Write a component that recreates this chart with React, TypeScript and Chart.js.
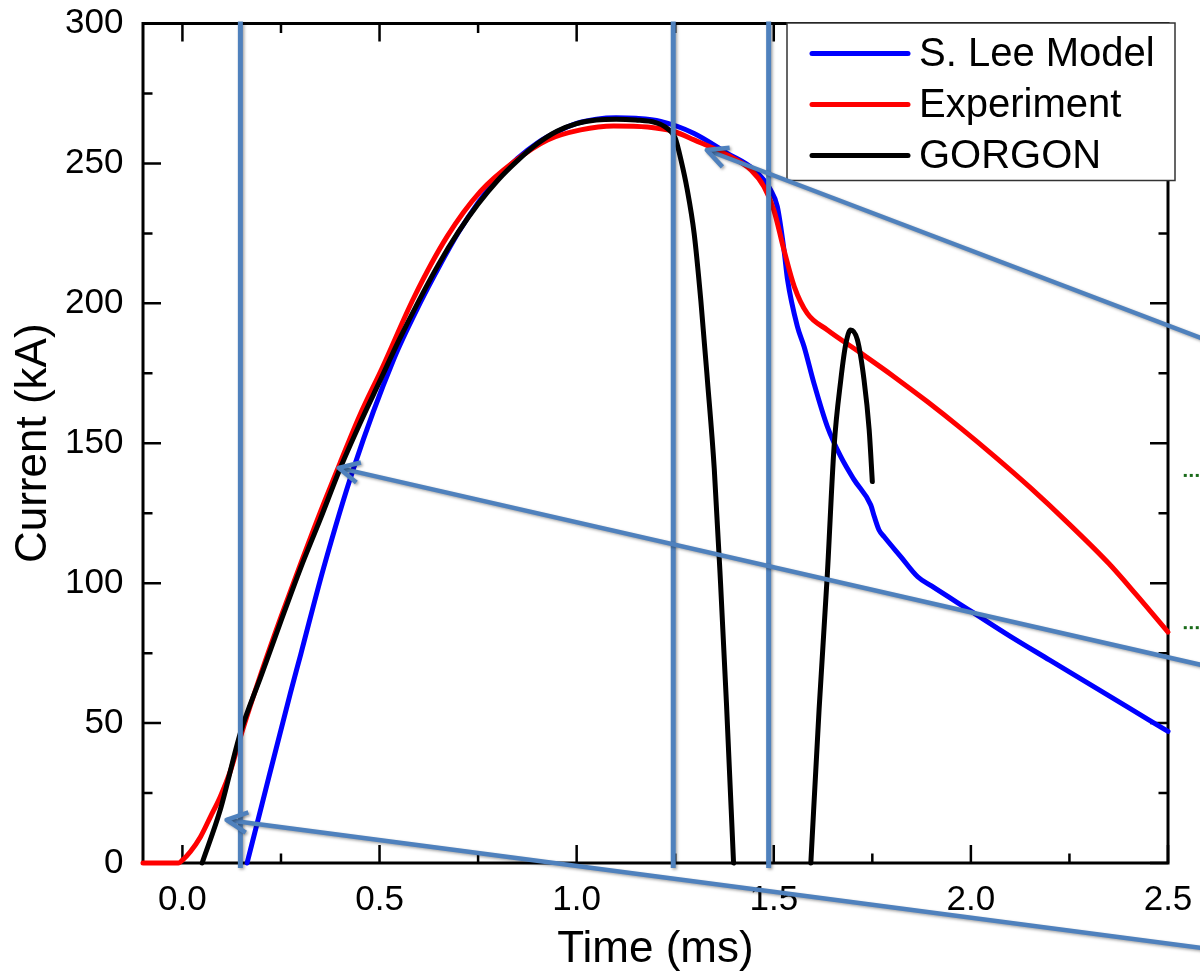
import React, { useEffect, useRef } from 'react';
import { Chart, registerables } from 'chart.js';

Chart.register(...registerables);

// ---- Data ----
const expTime = [-0.1, -0.01, 0.0, 0.02, 0.046, 0.071, 0.096, 0.122, 0.147, 0.2, 0.25, 0.3, 0.35, 0.4, 0.45, 0.507, 0.587, 0.672, 0.756, 0.841, 0.926, 1.01, 1.094, 1.18, 1.247, 1.298, 1.382, 1.442, 1.475, 1.5, 1.526, 1.552, 1.585, 1.636, 1.72, 1.805, 1.89, 1.975, 2.06, 2.15, 2.25, 2.35, 2.42, 2.5];
const expCurrent = [0, 0, 1, 4, 9.4, 16.5, 23.7, 33, 45, 68, 88, 107, 125.5, 143, 160, 177, 202, 224, 240, 250.6, 258.4, 262, 263.4, 263, 261.4, 258.4, 253, 247.7, 241.7, 233.4, 219, 206, 196.4, 190.5, 182.3, 173.8, 164.8, 155.3, 145.3, 134.2, 121, 107, 95.8, 82.5];

const leeTime = [0.164, 0.2, 0.274, 0.3, 0.358, 0.434, 0.536, 0.604, 0.65, 0.7, 0.75, 0.8, 0.85, 0.9, 0.95, 1.0, 1.05, 1.1, 1.15, 1.213, 1.298, 1.382, 1.45, 1.492, 1.509, 1.526, 1.535, 1.56, 1.577, 1.602, 1.636, 1.67, 1.704, 1.746, 1.755, 1.767, 1.78, 1.822, 1.865, 1.9, 2.0, 2.1, 2.2, 2.3, 2.4, 2.5];
const leeCurrent = [0, 20, 60.8, 74.5, 105.4, 141, 180, 200.4, 212.8, 225.3, 236, 244.8, 251.8, 257.3, 261.3, 264.3, 265.8, 266.3, 266.1, 265, 260.7, 253.6, 247.7, 240.5, 234.6, 219, 208.4, 191.7, 184.5, 171.4, 155.9, 145.2, 136.9, 127.9, 123.8, 119, 116.6, 109.5, 102.3, 99, 90, 81, 72.5, 64, 55.5, 47];

const gorgonTime = [0.05, 0.096, 0.147, 0.2, 0.25, 0.3, 0.35, 0.4, 0.45, 0.5, 0.55, 0.6, 0.65, 0.7, 0.75, 0.8, 0.85, 0.9, 0.95, 1.0, 1.05, 1.1, 1.15, 1.2, 1.225, 1.25, 1.265, 1.28, 1.298, 1.315, 1.332, 1.349, 1.365, 1.38, 1.398, 1.5, 1.594, 1.615, 1.636, 1.653, 1.67, 1.683, 1.695, 1.712, 1.729, 1.742, 1.75];
const gorgonCurrent = [0, 19, 46.5, 67, 86.5, 105.5, 123, 141, 157, 172, 187, 201, 214, 225.5, 235.5, 244, 251, 257, 261.5, 264.2, 265.5, 265.8, 265.5, 264.6, 263, 259, 251, 241, 225, 201, 172, 141, 100, 57, 0, null, 0, 55, 103.5, 148.8, 172.6, 185.7, 190.5, 187, 172.6, 154.8, 136.3];

const xTickValues = [0, 0.5, 1.0, 1.5, 2.0, 2.5];
const xTickLabels = ['0.0', '0.5', '1.0', '1.5', '2.0', '2.5'];
const xMinorTicks = [0.25, 0.75, 1.25, 1.75, 2.25];
const yTickValues = [0, 50, 100, 150, 200, 250, 300];
const yTickLabels = ['0', '50', '100', '150', '200', '250', '300'];
const yMinorTicks = [25, 75, 125, 175, 225, 275];

// annotation markers (data units)
const markerTimes = [0.147, 1.245, 1.487];
const arrowHeadTime = [1.33, 0.396, 0.112];
const arrowHeadCurrent = [254.8, 141.2, 15.4];
const arrowTailTime = [2.711, 2.711, 2.711];
const arrowTailCurrent = [180.8, 66.7, -32.7];
const dotStartTime = [2.54, 2.54];
const dotEndTime = [2.6, 2.6];
const dotCurrent = [138.5, 84.1];

const FONT = "'Liberation Sans', Arial, Helvetica, sans-serif";
const ANNOT = '#4F81BD';

const framePlugin = {
  id: 'frame',
  beforeDatasetsDraw(chart: any) {
    const { ctx, chartArea, scales } = chart;
    const { left, right, top, bottom } = chartArea;
    const x = scales.x, y = scales.y;
    ctx.save();
    ctx.strokeStyle = '#000';
    ctx.lineWidth = 2.5;
    ctx.lineCap = 'butt';
    const major = 18, minor = 9.5;
    const vt = (v: number, len: number) => {
      const p = x.getPixelForValue(v);
      ctx.beginPath();
      ctx.moveTo(p, bottom); ctx.lineTo(p, bottom - len);
      ctx.moveTo(p, top); ctx.lineTo(p, top + len);
      ctx.stroke();
    };
    const ht = (v: number, len: number) => {
      const p = y.getPixelForValue(v);
      ctx.beginPath();
      ctx.moveTo(left, p); ctx.lineTo(left + len, p);
      ctx.moveTo(right, p); ctx.lineTo(right - len, p);
      ctx.stroke();
    };
    xTickValues.forEach(v => vt(v, major));
    xMinorTicks.forEach(v => vt(v, minor));
    yTickValues.forEach(v => ht(v, major));
    yMinorTicks.forEach(v => ht(v, minor));
    ctx.lineWidth = 3;
    ctx.strokeRect(left, top, right - left, bottom - top);
    ctx.restore();
  },
};

const overlayPlugin = {
  id: 'overlay',
  afterDraw(chart: any) {
    const { ctx, chartArea, scales } = chart;
    const { right, top, bottom } = chartArea;
    const x = scales.x, y = scales.y;
    ctx.save();

    // Legend box
    const lx0 = right - 381, lx1 = right + 7, ly0 = top - 0.5, ly1 = top + 157;
    ctx.fillStyle = '#fff';
    ctx.fillRect(lx0, ly0, lx1 - lx0, ly1 - ly0);
    ctx.strokeStyle = '#333';
    ctx.lineWidth = 1.5;
    ctx.strokeRect(lx0, ly0, lx1 - lx0, ly1 - ly0);
    const rows = [top + 30, top + 81, top + 132];
    chart.data.datasets.forEach((ds: any, i: number) => {
      const ry = rows[i];
      ctx.strokeStyle = ds.borderColor;
      ctx.lineWidth = 5;
      ctx.lineCap = 'round';
      ctx.beginPath();
      ctx.moveTo(lx0 + 25, ry); ctx.lineTo(lx0 + 121, ry);
      ctx.stroke();
      ctx.fillStyle = '#000';
      ctx.font = `40px ${FONT}`;
      ctx.textAlign = 'left';
      ctx.textBaseline = 'middle';
      ctx.fillText(ds.label, lx0 + 132, ry + 1);
    });

    // annotation style
    ctx.shadowColor = 'rgba(0,0,0,0.35)';
    ctx.shadowBlur = 3;
    ctx.shadowOffsetX = 1.5;
    ctx.shadowOffsetY = 1.5;
    ctx.strokeStyle = ANNOT;
    ctx.lineCap = 'butt';

    // vertical markers
    ctx.lineWidth = 5;
    markerTimes.forEach(t => {
      const p = x.getPixelForValue(t);
      ctx.beginPath();
      ctx.moveTo(p, top - 2);
      ctx.lineTo(p, bottom + 5);
      ctx.stroke();
    });

    // arrows
    ctx.lineWidth = 4.5;
    ctx.lineJoin = 'round';
    arrowHeadTime.forEach((ht, i) => {
      const hx = x.getPixelForValue(ht), hy = y.getPixelForValue(arrowHeadCurrent[i]);
      const tx = x.getPixelForValue(arrowTailTime[i]), ty = y.getPixelForValue(arrowTailCurrent[i]);
      ctx.beginPath();
      ctx.moveTo(tx, ty);
      ctx.lineTo(hx, hy);
      ctx.stroke();
      const ang = Math.atan2(ty - hy, tx - hx);
      const len = 23, spread = 0.46;
      ctx.beginPath();
      ctx.moveTo(hx + len * Math.cos(ang - spread), hy + len * Math.sin(ang - spread));
      ctx.lineTo(hx, hy);
      ctx.lineTo(hx + len * Math.cos(ang + spread), hy + len * Math.sin(ang + spread));
      ctx.stroke();
    });

    // small green dotted fragments at the right edge
    ctx.shadowColor = 'rgba(0,0,0,0)';
    ctx.strokeStyle = '#1a6b1a';
    ctx.lineWidth = 3;
    ctx.setLineDash([3, 3]);
    dotCurrent.forEach((c, i) => {
      const py = y.getPixelForValue(c);
      ctx.beginPath();
      ctx.moveTo(x.getPixelForValue(dotStartTime[i]), py);
      ctx.lineTo(x.getPixelForValue(dotEndTime[i]), py);
      ctx.stroke();
    });
    ctx.restore();
  },
};

const toPoints = (t: number[], c: (number | null)[]) => t.map((v, k) => ({ x: v, y: c[k] }));

export default function App() {
  const ref = useRef<HTMLCanvasElement>(null);
  useEffect(() => {
    const canvas = ref.current;
    if (!canvas) return;
    const lineCommon = {
      borderWidth: 5,
      pointRadius: 0,
      fill: false,
      cubicInterpolationMode: 'monotone' as const,
      borderCapStyle: 'round' as const,
      borderJoinStyle: 'round' as const,
      spanGaps: false,
      clip: false as const,
    };
    const chart = new Chart(canvas, {
      type: 'line',
      data: {
        datasets: [
          { ...lineCommon, label: 'S. Lee Model', data: toPoints(leeTime, leeCurrent) as any, borderColor: '#0000FF', order: 3 },
          { ...lineCommon, label: 'Experiment', data: toPoints(expTime, expCurrent) as any, borderColor: '#FF0000', order: 2 },
          { ...lineCommon, label: 'GORGON', data: toPoints(gorgonTime, gorgonCurrent) as any, borderColor: '#000000', order: 1 },
        ],
      },
      options: {
        responsive: false,
        animation: false,
        layout: { padding: { top: 23.5, right: 32, left: 0, bottom: 0 } },
        plugins: { legend: { display: false }, tooltip: { enabled: false } },
        scales: {
          x: {
            type: 'linear',
            min: -0.1,
            max: 2.5,
            grid: { display: false, drawTicks: true, tickLength: 16.5 },
            border: { display: false },
            afterBuildTicks: (s: any) => { s.ticks = xTickValues.map(v => ({ value: v })); },
            afterFit: (s: any) => { s.height = 109; },
            ticks: {
              color: '#000',
              font: { family: FONT, size: 35 },
              padding: 0,
              maxRotation: 0,
              autoSkip: false,
              callback: (_v: any, i: number) => xTickLabels[i],
            },
            title: {
              display: true,
              text: 'Time (ms)',
              color: '#000',
              font: { family: FONT, size: 44, lineHeight: 1 },
              padding: { top: 0, bottom: 0 },
            },
          },
          y: {
            type: 'linear',
            min: 0,
            max: 300,
            grid: { display: false, drawTicks: true, tickLength: 19.5 },
            border: { display: false },
            afterBuildTicks: (s: any) => { s.ticks = yTickValues.map(v => ({ value: v })); },
            afterFit: (s: any) => { s.width = 143; },
            ticks: {
              color: '#000',
              font: { family: FONT, size: 35 },
              padding: 0,
              autoSkip: false,
              callback: (_v: any, i: number) => yTickLabels[i],
            },
            title: {
              display: true,
              text: 'Current (kA)',
              color: '#000',
              font: { family: FONT, size: 44, lineHeight: 1 },
              padding: { top: 12, bottom: 0 },
            },
          },
        },
      },
      plugins: [framePlugin, overlayPlugin],
    });
    return () => chart.destroy();
  }, []);

  return (
    <div style={{ position: 'absolute', left: 0, top: 0, width: 1200, height: 972, background: '#fff' }}>
      <canvas ref={ref} width={1200} height={972} style={{ display: 'block', width: 1200, height: 972 }} />
    </div>
  );
}
